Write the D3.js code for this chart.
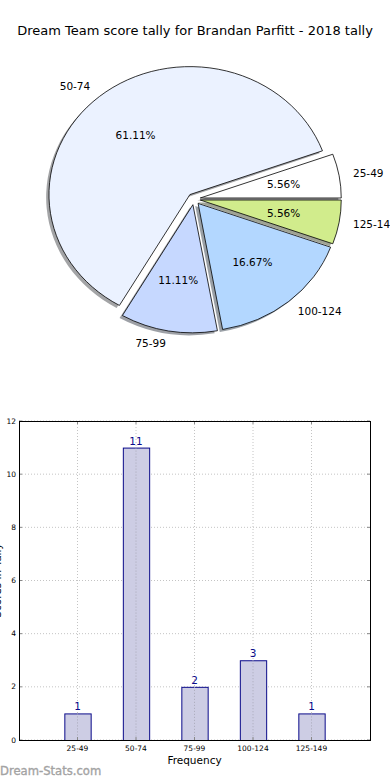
<!DOCTYPE html>
<html>
<head>
<meta charset="utf-8">
<script src="https://cdn.jsdelivr.net/npm/d3@7"></script>
<style>
  body { margin: 0; background: #fff; }
  svg { display: block; font-family: "DejaVu Sans", sans-serif; }
</style>
</head>
<body>
<svg id="chart" width="390" height="780"></svg>
<script>
const titleText = "Dream Team score tally for Brandan Parfitt - 2018 tally";
const categories = ["25-49", "50-74", "75-99", "100-124", "125-149"];
const counts = [1, 11, 2, 3, 1];
const sliceColors = ["#ffffff", "#ebf2ff", "#c6d8ff", "#b3d7ff", "#d1ec8c"];
const yTicks = [0, 2, 4, 6, 8, 10, 12];

let svg;

function drawTitle() {
  svg.append("text")
    .attr("x", 195)
    .attr("y", 35)
    .attr("text-anchor", "middle")
    .attr("font-size", 13)
    .attr("fill", "#000")
    .text(titleText);
}

function drawPie() {
  const cx = 194, cy = 199, rx = 141, ry = 128;
  const explode = 0.045;

  const pie = d3.pie()
    .sort(null)
    .value(d => d)
    .startAngle(Math.PI / 2)
    .endAngle(Math.PI / 2 - 2 * Math.PI);

  const arcs = pie(counts).map((a, i) => {
    const mid = (a.startAngle + a.endAngle) / 2;
    return {
      ...a,
      i,
      mid,
      ox: explode * Math.sin(mid),
      oy: -explode * Math.cos(mid)
    };
  });

  const arc = d3.arc().innerRadius(0).outerRadius(1);
  const total = d3.sum(counts);

  const g = svg.append("g")
    .attr("transform", `translate(${cx},${cy}) scale(${rx},${ry})`);

  // shadows first, all under the wedges
  g.append("g").selectAll("path")
    .data(arcs)
    .enter()
    .append("path")
    .attr("transform", d => `translate(${d.ox - 0.02},${d.oy + 0.02})`)
    .attr("d", arc)
    .attr("fill", d => {
      const c = d3.rgb(sliceColors[d.i]);
      return d3.rgb(c.r * 0.3, c.g * 0.3, c.b * 0.3);
    })
    .attr("fill-opacity", 0.5)
    .attr("stroke", "none");

  g.append("g").selectAll("path")
    .data(arcs)
    .enter()
    .append("path")
    .attr("transform", d => `translate(${d.ox},${d.oy})`)
    .attr("d", arc)
    .attr("fill", d => sliceColors[d.i])
    .attr("stroke", "#000")
    .attr("stroke-width", 0.8)
    .attr("vector-effect", "non-scaling-stroke");

  svg.append("g").selectAll("text")
    .data(arcs)
    .enter()
    .append("text")
    .attr("x", d => cx + rx * (d.ox + 1.1 * Math.sin(d.mid)))
    .attr("y", d => cy + ry * (d.oy - 1.1 * Math.cos(d.mid)))
    .attr("dy", "0.35em")
    .attr("text-anchor", d => Math.sin(d.mid) > 0 ? "start" : "end")
    .attr("font-size", 10.5)
    .text(d => categories[d.i]);

  svg.append("g").selectAll("text")
    .data(arcs)
    .enter()
    .append("text")
    .attr("x", d => cx + rx * (d.ox + 0.6 * Math.sin(d.mid)))
    .attr("y", d => cy + ry * (d.oy - 0.6 * Math.cos(d.mid)))
    .attr("dy", "0.35em")
    .attr("text-anchor", "middle")
    .attr("font-size", 10.5)
    .text(d => d3.format(".2f")(d.value / total * 100) + "%");
}

function drawBars() {
  const left = 19, right = 370, top = 421, bottom = 740;

  const x = d3.scaleLinear().domain([-1, 5]).range([left, right]);
  const y = d3.scaleLinear().domain([0, 12]).range([bottom, top]);
  const barW = x(0.45) - x(0);

  const g = svg.append("g");

  // grid
  g.append("g").selectAll("line")
    .data(yTicks)
    .enter()
    .append("line")
    .attr("x1", left).attr("x2", right)
    .attr("y1", d => y(d)).attr("y2", d => y(d))
    .attr("stroke", "#c4c4c4")
    .attr("stroke-dasharray", "1,2");

  g.append("g").selectAll("line")
    .data(categories)
    .enter()
    .append("line")
    .attr("x1", (d, i) => x(i)).attr("x2", (d, i) => x(i))
    .attr("y1", top).attr("y2", bottom)
    .attr("stroke", "#c4c4c4")
    .attr("stroke-dasharray", "1,2");

  g.append("g").selectAll("rect")
    .data(counts)
    .enter()
    .append("rect")
    .attr("x", (d, i) => x(i) - barW / 2 + 0.5)
    .attr("y", d => y(d) + 0.5)
    .attr("width", barW)
    .attr("height", d => y(0) - y(d))
    .attr("fill", "#cdcde4")
    .attr("stroke", "#0a0a8a")
    .attr("stroke-width", 1);

  // grid is drawn over the bars in the reference
  g.append("g").selectAll("line")
    .data(counts)
    .enter()
    .append("line")
    .attr("x1", (d, i) => x(i)).attr("x2", (d, i) => x(i))
    .attr("y1", d => y(d)).attr("y2", bottom)
    .attr("stroke", "#a8a8b8")
    .attr("stroke-dasharray", "1,2");

  g.append("g").selectAll("text")
    .data(counts)
    .enter()
    .append("text")
    .attr("x", (d, i) => x(i))
    .attr("y", d => y(d) - 3)
    .attr("text-anchor", "middle")
    .attr("font-size", 10.5)
    .attr("fill", "#0a0a8a")
    .text(d => d);

  // ticks on all sides, pointing in
  const tk = g.append("g").attr("stroke", "#888");
  yTicks.forEach(t => {
    tk.append("line").attr("x1", left).attr("x2", left + 3).attr("y1", y(t)).attr("y2", y(t));
    tk.append("line").attr("x1", right).attr("x2", right - 3).attr("y1", y(t)).attr("y2", y(t));
  });
  categories.forEach((c, i) => {
    tk.append("line").attr("x1", x(i)).attr("x2", x(i)).attr("y1", bottom).attr("y2", bottom - 3);
    tk.append("line").attr("x1", x(i)).attr("x2", x(i)).attr("y1", top).attr("y2", top + 3);
  });

  g.append("rect")
    .attr("x", left + 0.5)
    .attr("y", top + 0.5)
    .attr("width", right - left)
    .attr("height", bottom - top)
    .attr("fill", "none")
    .attr("stroke", "#000")
    .attr("stroke-width", 1);

  g.append("g").selectAll("text")
    .data(yTicks)
    .enter()
    .append("text")
    .attr("x", left - 3)
    .attr("y", d => y(d))
    .attr("dy", "0.35em")
    .attr("text-anchor", "end")
    .attr("font-size", 7.5)
    .text(d => d);

  g.append("g").selectAll("text")
    .data(categories)
    .enter()
    .append("text")
    .attr("x", (d, i) => x(i))
    .attr("y", bottom + 11)
    .attr("text-anchor", "middle")
    .attr("font-size", 7.5)
    .text(d => d);

  g.append("text")
    .attr("x", (left + right) / 2)
    .attr("y", 764)
    .attr("text-anchor", "middle")
    .attr("font-size", 10.5)
    .text("Frequency");

  // the y label sits mostly off the left edge, as in the reference
  g.append("text")
    .attr("transform", `translate(0.5,${(top + bottom) / 2}) rotate(-90)`)
    .attr("text-anchor", "middle")
    .attr("font-size", 10.5)
    .text("Scores in Tally");
}

function drawWatermark() {
  svg.append("text")
    .attr("x", 0)
    .attr("y", 775)
    .attr("font-size", 11.6)
    .attr("fill", "#a3a3a3")
    .attr("stroke", "#a3a3a3")
    .attr("stroke-width", 0.35)
    .text("Dream-Stats.com");
}

svg = d3.select("#chart");
drawTitle();
drawPie();
drawBars();
drawWatermark();
</script>
</body>
</html>
